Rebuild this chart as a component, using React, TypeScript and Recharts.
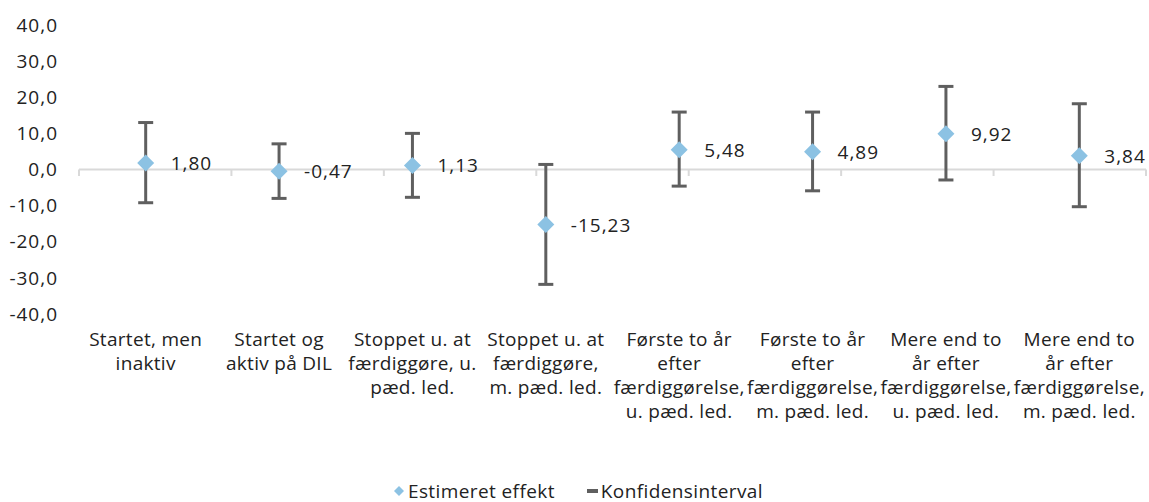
import { ComposedChart, Line, ErrorBar, XAxis, YAxis, ReferenceLine, Legend } from 'recharts';

// Kategorier (linjeskift som i figuren)
const categories = [
    'Startet, men\ninaktiv',
    'Startet og\naktiv på DIL',
    'Stoppet u. at\nfærdiggøre, u.\npæd. led.',
    'Stoppet u. at\nfærdiggøre,\nm. pæd. led.',
    'Første to år\nefter\nfærdiggørelse,\nu. pæd. led.',
    'Første to år\nefter\nfærdiggørelse,\nm. pæd. led.',
    'Mere end to\når efter\nfærdiggørelse,\nu. pæd. led.',
    'Mere end to\når efter\nfærdiggørelse,\nm. pæd. led.',
];

// Estimeret effekt
const estimates = [1.80, -0.47, 1.13, -15.23, 5.48, 4.89, 9.92, 3.84];

// Konfidensinterval (nedre / øvre grænse)
const ciLow = [-9.2, -8.0, -7.7, -31.8, -4.6, -5.9, -2.9, -10.3];
const ciHigh = [13.0, 7.1, 10.0, 1.4, 15.9, 15.9, 23.0, 18.2];

const yTicks = [-40, -30, -20, -10, 0, 10, 20, 30, 40];

const data = categories.map((name, i) => ({
    name,
    effekt: estimates[i],
    ci: [estimates[i] - ciLow[i], ciHigh[i] - estimates[i]],
}));

const FONT = '"Open Sans", "Noto Sans", sans-serif';
const TXT = '#222';
const fmt = (v: number, d: number) => v.toFixed(d).replace('.', ',');

const Diamond = (props: any) => {
    const { cx, cy } = props;
    if (cx == null || cy == null) return null;
    const r = 8.5;
    return <path d={`M${cx},${cy - r}L${cx + r},${cy}L${cx},${cy + r}L${cx - r},${cy}Z`} fill="#8cc2e3" />;
};

const CategoryTick = (props: any) => {
    const { x, y, payload } = props;
    const lines = String(payload.value).split('\n');
    return (
        <text x={x} y={y} textAnchor="middle" fill={TXT} fontSize={19} letterSpacing={0.3} fontFamily={FONT}>
            {lines.map((l, i) => (
                <tspan key={i} x={x} dy={24}>{l}</tspan>
            ))}
        </text>
    );
};

const ValueLabel = (props: any) => {
    const { x, y, value } = props;
    return (
        <text x={x + 25} y={y} dy={7} fill={TXT} fontSize={19} letterSpacing={1} fontFamily={FONT}>
            {fmt(value, 2)}
        </text>
    );
};

const LegendContent = () => (
    <div style={{ display: 'flex', justifyContent: 'center', fontFamily: FONT, fontSize: 19, letterSpacing: 0.4, color: TXT, gap: 32, lineHeight: '22px', height: 22, paddingLeft: 10 }}>
        <span style={{ display: 'flex', alignItems: 'center' }}>
            <svg width={12} height={12} style={{ marginRight: 3 }}>
                <path d="M6,1L11,6L6,11L1,6Z" fill="#8cc2e3" />
            </svg>
            Estimeret effekt
        </span>
        <span style={{ display: 'flex', alignItems: 'center' }}>
            <svg width={12} height={12} style={{ marginRight: 2 }}>
                <rect x={0} y={4} width={11} height={4} fill="#5f5f5f" />
            </svg>
            Konfidensinterval
        </span>
    </div>
);

function App() {
    return (
        <div style={{ position: 'absolute', left: 0, top: 0, background: '#fff' }}>
            <ComposedChart width={1149} height={502} data={data} margin={{ top: 25, right: 3, bottom: 0, left: 0 }}>
                <XAxis dataKey="name" type="category" scale="band" axisLine={false} tickLine={false} interval={0} height={166} tick={<CategoryTick />} />
                <XAxis xAxisId="grid" type="number" domain={[0, categories.length]} hide />
                <YAxis domain={[-40, 40]} ticks={yTicks} axisLine={false} tickLine={false} tickSize={0} tickMargin={21} width={79}
                    tick={{ fill: TXT, fontSize: 19, fontFamily: FONT, letterSpacing: 1 }} tickFormatter={(v) => fmt(v, 1)} />
                <ReferenceLine y={0} stroke="#d9d9d9" strokeWidth={2} />
                {categories.map((_, i) => i).concat([categories.length]).map((i) => (
                    <ReferenceLine key={i} xAxisId="grid" segment={[{ x: i, y: 0 }, { x: i, y: -1.8 }]} stroke="#d9d9d9" strokeWidth={2} />
                ))}
                <Legend verticalAlign="bottom" content={<LegendContent />} wrapperStyle={{ bottom: 0 }} />
                <Line dataKey="effekt" stroke="none" isAnimationActive={false} dot={<Diamond />} activeDot={false} label={<ValueLabel />} legendType="diamond">
                    <ErrorBar dataKey="ci" direction="y" stroke="#5f5f5f" strokeWidth={3} width={7.5} />
                </Line>
            </ComposedChart>
        </div>
    );
}

export default App;
